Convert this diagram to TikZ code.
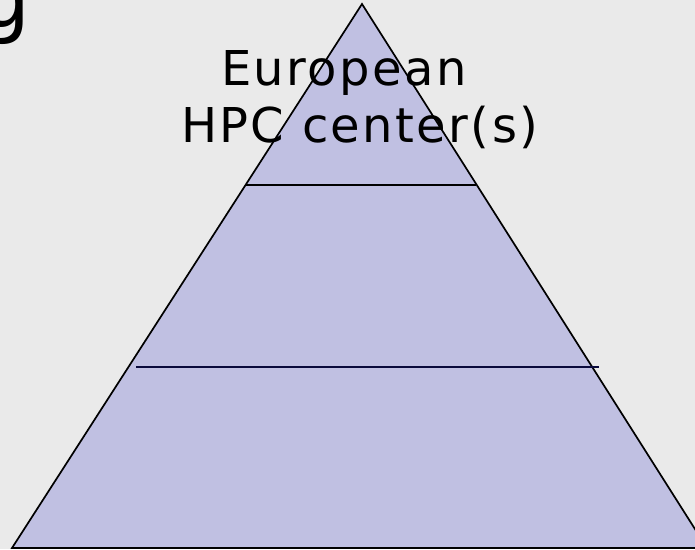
\documentclass[tikz,border=0pt]{standalone}
\usepackage{fontspec}
\setmainfont{DejaVu Sans}
\newfontfamily\labelfont[LetterSpace=5]{DejaVu Sans}
\definecolor{bgc}{HTML}{EAEAEA}
\definecolor{pyrfill}{HTML}{C0C0E2}
\definecolor{navyline}{HTML}{0A0A3C}
\begin{document}
\begin{tikzpicture}[x=1pt,y=-1pt,
  pyr/.style={fill=pyrfill,draw=black,line width=1.7pt,line join=miter},
  tier/.style={line width=1.7pt},
  lbl/.style={anchor=base west,inner sep=0pt,font=\labelfont\fontsize{48}{56}\selectfont,text=black}]
\useasboundingbox (0,0) rectangle (695,549);
\fill[bgc] (0,0) rectangle (695,549);
% partial title glyph
\node[anchor=base west,inner sep=0pt,font=\fontsize{82}{96}\selectfont] (ttl) at (-22,27) {g};
% pyramid
\coordinate (apex) at (362,4);
\coordinate (bl) at (12,548);
\coordinate (br) at (707,548);
\draw[pyr] (bl) -- (apex) -- (br) -- cycle;
\coordinate (t1a) at (245,185);
\coordinate (t1b) at (476,185);
\draw[tier,black] (t1a) -- (t1b);
\coordinate (t2a) at (136,367);
\coordinate (t2b) at (599,367);
\draw[tier,navyline] (t2a) -- (t2b);
% labels
\node[lbl] (l1) at (221,85) {European};
\node[lbl] (l2) at (181,142) {HPC center(s)};
\end{tikzpicture}
\end{document}
